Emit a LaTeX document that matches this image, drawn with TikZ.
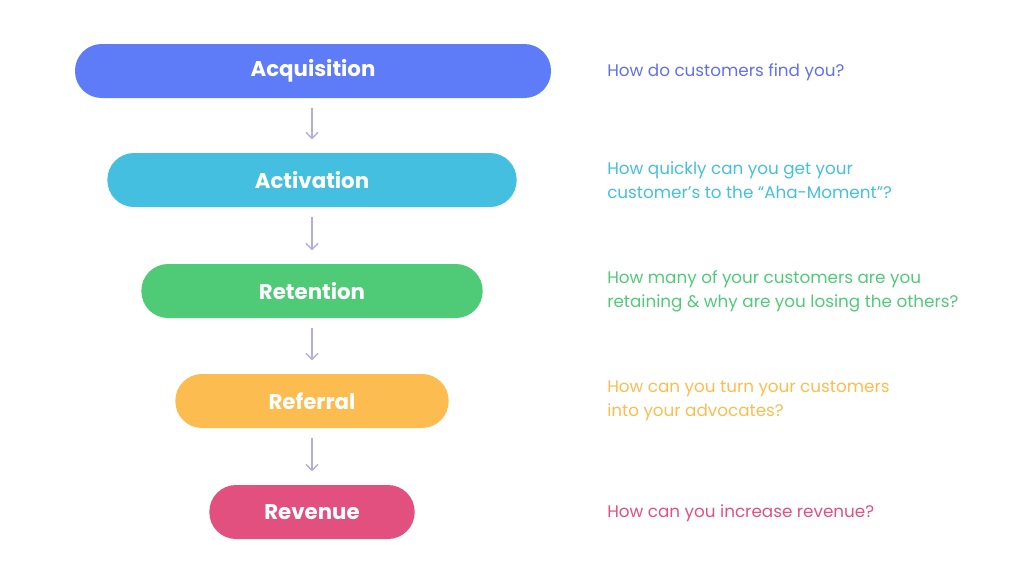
\documentclass[tikz,border=0pt]{standalone}
\usepackage{fontspec}
\setmainfont{Poppins}
\usepackage{tikz}
\usetikzlibrary{arrows.meta}

\definecolor{acqcol}{HTML}{5E7CF7}
\definecolor{actcol}{HTML}{45BFE0}
\definecolor{retcol}{HTML}{4FCB77}
\definecolor{refcol}{HTML}{FDBC4F}
\definecolor{revcol}{HTML}{E2507F}
\definecolor{arrcol}{HTML}{B3AEDC}

\tikzset{
  pill/.style={rectangle, rounded corners=20pt, minimum height=40.5pt, inner sep=0pt,
    text=white, font=\fontsize{16}{18}\selectfont\bfseries},
  question/.style={anchor=west, align=left, inner sep=0pt,
    font=\fontsize{12.6}{18}\selectfont},
  flowarrow/.style={arrcol, line width=1.1pt, -{Straight Barb[length=4.5pt,width=9pt]},
    shorten <=7.5pt, shorten >=10pt}
}

\begin{document}
\begin{tikzpicture}[x=0.75pt, y=-0.75pt]
\useasboundingbox (0,0) rectangle (1024,586);

%---stages---

\node[pill, fill=acqcol, minimum width=357pt] (acq) at (313,71) {Acquisition};
\node[pill, fill=actcol, minimum width=307pt] (act) at (312,180) {Activation};
\node[pill, fill=retcol, minimum width=256pt] (ret) at (312,291) {Retention};
\node[pill, fill=refcol, minimum width=205pt] (ref) at (312,401) {Referral};
\node[pill, fill=revcol, minimum width=154pt] (rev) at (312,512) {Revenue};

\draw[flowarrow] (acq.south -| act.north) -- (act.north);
\draw[flowarrow] (act) -- (ret);
\draw[flowarrow] (ret) -- (ref);
\draw[flowarrow] (ref) -- (rev);

%---questions---

\node[question, text=acqcol!90!violet] (qacq) at (607,72) {How do customers find you?};
\node[question, text=actcol] (qact) at (607,180) {How quickly can you get your\\customer's to the “Aha-Moment”?};
\node[question, text=retcol] (qret) at (607,291) {How many of your customers are you\\retaining \& why are you losing the others?};
\node[question, text=refcol] (qref) at (607,401) {How can you turn your customers\\into your advocates?};
\node[question, text=revcol] (qrev) at (607,513) {How can you increase revenue?};

\end{tikzpicture}
\end{document}
